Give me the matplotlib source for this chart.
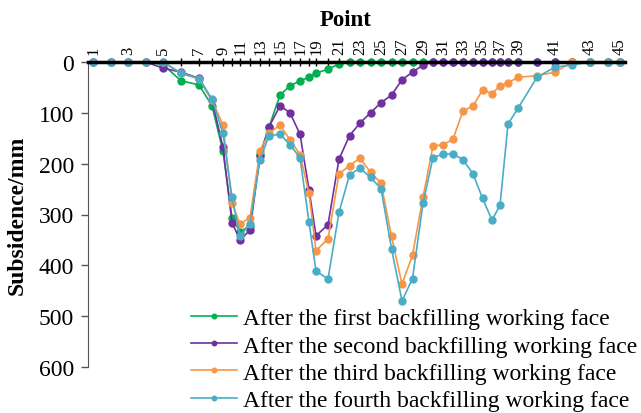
import numpy as np
import matplotlib
matplotlib.use("Agg")
import matplotlib.pyplot as plt
from matplotlib.ticker import FixedLocator, NullFormatter

plt.rcParams['font.family'] = ['Liberation Serif', 'DejaVu Serif']

# survey points and their chainage along the line (m)
points = list(range(1, 46))
chainage = [0, 35, 70, 105, 140, 176, 212, 238, 260, 278,
            294, 314, 334, 352, 374, 394, 414, 432, 446, 470,
            492, 513, 534, 555, 576, 597, 618, 639, 660, 680,
            700, 720, 740, 760, 779, 798, 814, 830, 850, 888,
            924, 958, 994, 1030, 1054]

# subsidence (mm) after each backfilling working face
first = [0, 0, 0, 0, 5, 37, 45, 86, 176, 307,
         334, 322, 181, 128, 65, 47, 37, 30, 22, 14,
         4, 0, 0, 0, 0, 0, 0, 0, 0, 0,
         0, 0, 0, 0, 0, 0, 0, 0, 0, 0,
         0, 0, 0, 0, 0]
second = [0, 0, 0, 0, 12, 20, 32, 75, 168, 316,
          350, 331, 184, 128, 86, 100, 142, 251, 342, 320,
          191, 145, 120, 100, 80, 65, 35, 20, 6, 0,
          0, 0, 0, 0, 0, 0, 0, 0, 0, 0,
          0, 0, 0, 0, 0]
third = [0, 0, 0, 0, 0, 22, 33, 75, 124, 277,
         319, 306, 175, 140, 124, 153, 182, 258, 371, 348,
         220, 204, 189, 217, 238, 343, 437, 380, 266, 165,
         163, 152, 96, 87, 55, 62, 47, 41, 30, 27,
         20, 0, 0, 0, 0]
fourth = [0, 0, 0, 0, 0, 22, 33, 73, 140, 266,
          342, 319, 192, 145, 142, 163, 188, 315, 411, 427,
          296, 222, 209, 227, 249, 367, 470, 426, 278, 188,
          181, 181, 192, 220, 268, 311, 282, 122, 91, 30,
          10, 6, 0, 0, 0]

series = [
    ("After the first backfilling working face", first, "#00B050"),
    ("After the second backfilling working face", second, "#7030A0"),
    ("After the third backfilling working face", third, "#F79646"),
    ("After the fourth backfilling working face", fourth, "#4BACC6"),
]

fig = plt.figure(figsize=(6.41, 4.14), dpi=100)
ax = fig.add_axes([88 / 641, 1 - 368 / 414, (625 - 88) / 641, (368 - 63) / 414])

for name, vals, col in series:
    ax.plot(chainage, vals, color=col, lw=1.2, marker='o', ms=5,
            label=name, clip_on=False)

ax.set_xlim(-10, 1064)
ax.set_ylim(600, 0)

# point numbers on the top axis, odd ones labelled
ax.xaxis.tick_top()
ax.xaxis.set_label_position('top')
odd = [c for p, c in zip(points, chainage) if p % 2 == 1]
even = [c for p, c in zip(points, chainage) if p % 2 == 0]
ax.set_xticks(odd)
ax.set_xticklabels([str(p) for p in points if p % 2 == 1], rotation=90, fontsize=12)
ax.xaxis.set_minor_locator(FixedLocator(even))
ax.xaxis.set_minor_formatter(NullFormatter())
ax.tick_params(axis='x', which='both', direction='inout', length=6, width=1, pad=3)
ax.set_xlabel("Point", fontsize=16.5, fontweight='bold')
ax.xaxis.set_label_coords(0.48, 1.12)

ax.set_yticks(np.arange(0, 601, 100))
ax.tick_params(axis='y', direction='out', length=5, width=1, pad=5,
               labelsize=17, color='#555555')
ax.set_ylabel("Subsidence/mm", fontsize=17, fontweight='bold')
ax.yaxis.set_label_coords(-0.112, 0.5)

ax.spines['right'].set_visible(False)
ax.spines['bottom'].set_visible(False)
ax.spines['top'].set_linewidth(2.5)
ax.spines['left'].set_color('#555555')

ax.legend(loc='upper left', bbox_to_anchor=(179 / 641, 1 - 297 / 414),
          bbox_transform=fig.transFigure, frameon=False, fontsize=17,
          handlelength=1.95, handletextpad=0.25, labelspacing=0.24,
          borderpad=0, markerscale=0.65)

fig.savefig("out.png", dpi=100)
